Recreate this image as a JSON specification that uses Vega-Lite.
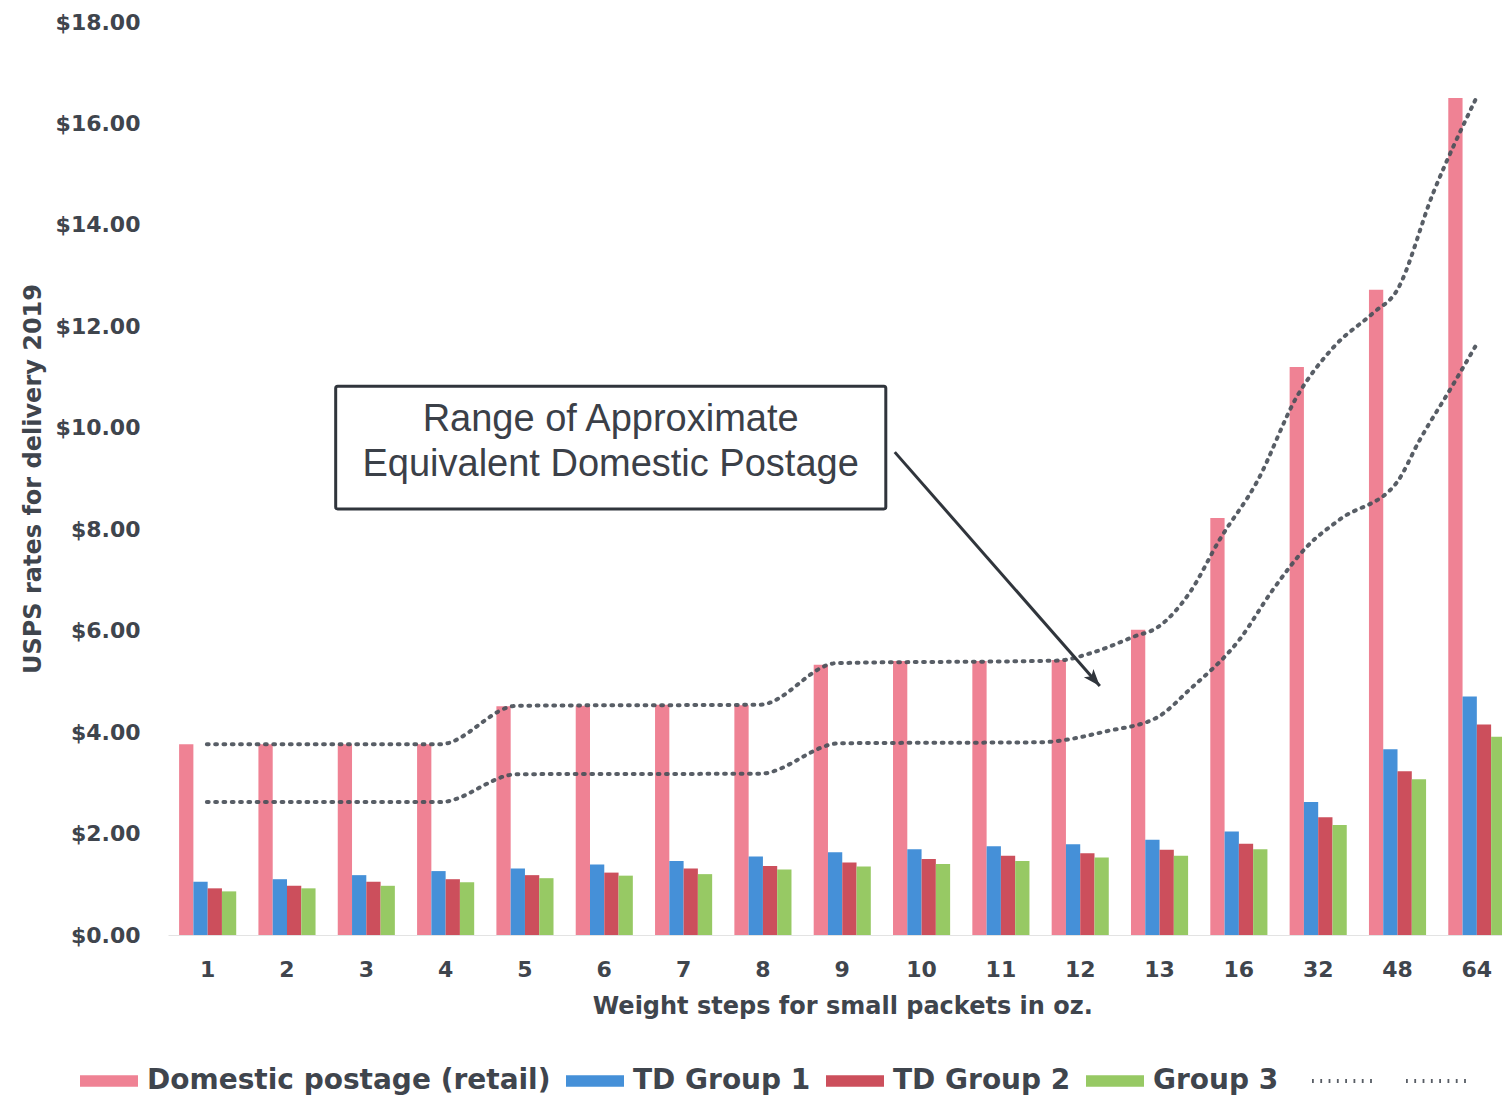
{
  "$schema": "https://vega.github.io/schema/vega-lite/v6.json",
  "width": 1334,
  "height": 913,
  "autosize": {"type": "none"},
  "padding": {"left": 168, "top": 22, "right": 0, "bottom": 163},
  "background": "#ffffff",
  "datasets": {
    "rates": [
      {"oz": "1", "Domestic postage (retail)": 3.76, "TD Group 1": 1.05, "TD Group 2": 0.92, "Group 3": 0.86},
      {"oz": "2", "Domestic postage (retail)": 3.76, "TD Group 1": 1.10, "TD Group 2": 0.97, "Group 3": 0.92},
      {"oz": "3", "Domestic postage (retail)": 3.76, "TD Group 1": 1.18, "TD Group 2": 1.05, "Group 3": 0.97},
      {"oz": "4", "Domestic postage (retail)": 3.76, "TD Group 1": 1.26, "TD Group 2": 1.10, "Group 3": 1.04},
      {"oz": "5", "Domestic postage (retail)": 4.51, "TD Group 1": 1.31, "TD Group 2": 1.18, "Group 3": 1.12},
      {"oz": "6", "Domestic postage (retail)": 4.52, "TD Group 1": 1.39, "TD Group 2": 1.23, "Group 3": 1.17},
      {"oz": "7", "Domestic postage (retail)": 4.54, "TD Group 1": 1.46, "TD Group 2": 1.31, "Group 3": 1.20},
      {"oz": "8", "Domestic postage (retail)": 4.53, "TD Group 1": 1.55, "TD Group 2": 1.36, "Group 3": 1.29},
      {"oz": "9", "Domestic postage (retail)": 5.33, "TD Group 1": 1.63, "TD Group 2": 1.43, "Group 3": 1.35},
      {"oz": "10", "Domestic postage (retail)": 5.40, "TD Group 1": 1.69, "TD Group 2": 1.50, "Group 3": 1.40},
      {"oz": "11", "Domestic postage (retail)": 5.40, "TD Group 1": 1.75, "TD Group 2": 1.56, "Group 3": 1.46},
      {"oz": "12", "Domestic postage (retail)": 5.42, "TD Group 1": 1.79, "TD Group 2": 1.61, "Group 3": 1.53},
      {"oz": "13", "Domestic postage (retail)": 6.02, "TD Group 1": 1.88, "TD Group 2": 1.68, "Group 3": 1.56},
      {"oz": "16", "Domestic postage (retail)": 8.22, "TD Group 1": 2.04, "TD Group 2": 1.80, "Group 3": 1.69},
      {"oz": "32", "Domestic postage (retail)": 11.20, "TD Group 1": 2.62, "TD Group 2": 2.32, "Group 3": 2.17},
      {"oz": "48", "Domestic postage (retail)": 12.72, "TD Group 1": 3.66, "TD Group 2": 3.23, "Group 3": 3.07},
      {"oz": "64", "Domestic postage (retail)": 16.50, "TD Group 1": 4.70, "TD Group 2": 4.15, "Group 3": 3.91}
    ],
    "range": [
      {"band": "upper", "pos": 0.99, "rate": 3.76},
      {"band": "upper", "pos": 3.93, "rate": 3.76},
      {"band": "upper", "pos": 4.90, "rate": 4.52},
      {"band": "upper", "pos": 7.96, "rate": 4.54},
      {"band": "upper", "pos": 8.93, "rate": 5.36},
      {"band": "upper", "pos": 11.72, "rate": 5.41},
      {"band": "upper", "pos": 12.12, "rate": 5.55},
      {"band": "upper", "pos": 12.69, "rate": 5.89},
      {"band": "upper", "pos": 12.97, "rate": 6.06},
      {"band": "upper", "pos": 13.38, "rate": 6.75},
      {"band": "upper", "pos": 13.76, "rate": 7.80},
      {"band": "upper", "pos": 14.23, "rate": 8.94},
      {"band": "upper", "pos": 14.73, "rate": 10.61},
      {"band": "upper", "pos": 15.20, "rate": 11.60},
      {"band": "upper", "pos": 15.69, "rate": 12.26},
      {"band": "upper", "pos": 15.99, "rate": 12.70},
      {"band": "upper", "pos": 16.45, "rate": 14.63},
      {"band": "upper", "pos": 16.98, "rate": 16.46},
      {"band": "lower", "pos": 0.99, "rate": 2.62},
      {"band": "lower", "pos": 3.93, "rate": 2.62},
      {"band": "lower", "pos": 4.90, "rate": 3.17},
      {"band": "lower", "pos": 7.96, "rate": 3.18},
      {"band": "lower", "pos": 8.97, "rate": 3.78},
      {"band": "lower", "pos": 11.49, "rate": 3.80},
      {"band": "lower", "pos": 12.34, "rate": 4.02},
      {"band": "lower", "pos": 12.97, "rate": 4.29},
      {"band": "lower", "pos": 13.38, "rate": 4.84},
      {"band": "lower", "pos": 14.01, "rate": 5.83},
      {"band": "lower", "pos": 14.43, "rate": 6.81},
      {"band": "lower", "pos": 14.86, "rate": 7.66},
      {"band": "lower", "pos": 15.27, "rate": 8.19},
      {"band": "lower", "pos": 15.99, "rate": 8.92},
      {"band": "lower", "pos": 16.28, "rate": 9.76},
      {"band": "lower", "pos": 16.70, "rate": 10.85},
      {"band": "lower", "pos": 16.98, "rate": 11.60}
    ],
    "note": [
      {"left": 2.614, "right": 9.549, "rate": 8.40, "rate2": 10.82, "mid": 6.08, "textRate": 10.15,
       "label": "Range of Approximate\nEquivalent Domestic Postage"}
    ],
    "arrow": [
      {"end": "tail", "pos": 9.662, "rate": 9.52},
      {"end": "head", "pos": 12.247, "rate": 4.91}
    ]
  },
  "layer": [
    {
      "data": {"name": "rates"},
      "transform": [
        {"fold": ["Domestic postage (retail)", "TD Group 1", "TD Group 2", "Group 3"], "as": ["series", "rate"]}
      ],
      "mark": {"type": "bar"},
      "encoding": {
        "x": {
          "field": "oz", "type": "ordinal", "sort": null,
          "scale": {"range": [0, 1348.5], "paddingInner": 0.28, "paddingOuter": 0.14},
          "axis": {"title": "Weight steps for small packets in oz.", "labelOverlap": false}
        },
        "xOffset": {
          "field": "series", "type": "nominal",
          "sort": ["Domestic postage (retail)", "TD Group 1", "TD Group 2", "Group 3"]
        },
        "y": {
          "field": "rate", "type": "quantitative",
          "title": "USPS rates for delivery 2019",
          "scale": {"domain": [0, 18], "nice": false},
          "axis": {"values": [0, 2, 4, 6, 8, 10, 12, 14, 16, 18], "format": "$.2f"}
        },
        "color": {
          "field": "series", "type": "nominal",
          "scale": {
            "domain": ["Domestic postage (retail)", "TD Group 1", "TD Group 2", "Group 3"],
            "range": ["#ef8294", "#4590d8", "#cc4f5c", "#97c964"]
          },
          "legend": {
            "title": null, "orient": "none", "direction": "horizontal",
            "legendX": -88, "legendY": 1030, "padding": 0,
            "symbolType": "M-1,-0.2H1V0.2H-1Z", "symbolSize": 3364, "symbolStrokeWidth": 0,
            "symbolOpacity": 1,
            "labelFont": "DejaVu Sans", "labelFontWeight": "bold", "labelFontSize": 28,
            "labelColor": "#3f454d", "labelOffset": 9, "columnPadding": 15, "labelLimit": 600
          }
        }
      }
    },
    {
      "data": {"name": "range"},
      "mark": {"type": "line", "interpolate": "monotone", "color": "#4a5059", "strokeWidth": 4,
               "strokeCap": "round", "opacity": 0.92},
      "encoding": {
        "x": {"field": "pos", "type": "quantitative", "scale": {"domain": [0.5, 17.5], "range": [0, 1348.5]}, "axis": null},
        "y": {"field": "rate", "type": "quantitative", "title": "USPS rates for delivery 2019", "scale": {"domain": [0, 18], "nice": false}},
        "strokeDash": {
          "field": "band", "type": "nominal",
          "scale": {"domain": ["upper", "lower"], "range": [[1.8, 6.5], [1.8, 6.5]]},
          "legend": {
            "title": null, "orient": "none", "direction": "horizontal",
            "legendX": 1142, "legendY": 1027, "padding": 0,
            "symbolType": "stroke", "symbolSize": 3600, "symbolStrokeWidth": 4,
            "symbolStrokeColor": "#4a5059", "labelExpr": "''", "labelOffset": 0, "columnPadding": 18,
            "encode": {
              "symbols": {
                "update": {
                  "strokeCap": {"value": "round"},
                  "strokeDash": {"value": [2.5, 9.5]}
                }
              }
            }
          }
        }
      }
    },
    {
      "data": {"name": "note"},
      "mark": {"type": "rect", "fill": "#ffffff", "stroke": "#30353c", "strokeWidth": 3, "cornerRadius": 2},
      "encoding": {
        "x": {"field": "left", "type": "quantitative", "scale": {"domain": [0.5, 17.5], "range": [0, 1348.5]}, "axis": null},
        "x2": {"field": "right"},
        "y": {"field": "rate", "type": "quantitative", "title": "USPS rates for delivery 2019", "scale": {"domain": [0, 18], "nice": false}},
        "y2": {"field": "rate2"}
      }
    },
    {
      "data": {"name": "note"},
      "mark": {"type": "text", "font": "Liberation Sans", "fontSize": 38, "color": "#3b4048",
               "lineBreak": "\n", "lineHeight": 45, "align": "center", "baseline": "middle"},
      "encoding": {
        "x": {"field": "mid", "type": "quantitative", "scale": {"domain": [0.5, 17.5], "range": [0, 1348.5]}, "axis": null},
        "y": {"field": "textRate", "type": "quantitative", "title": "USPS rates for delivery 2019", "scale": {"domain": [0, 18], "nice": false}},
        "text": {"field": "label"}
      }
    },
    {
      "data": {"name": "arrow"},
      "mark": {"type": "line", "color": "#30353c", "strokeWidth": 3},
      "encoding": {
        "x": {"field": "pos", "type": "quantitative", "scale": {"domain": [0.5, 17.5], "range": [0, 1348.5]}, "axis": null},
        "y": {"field": "rate", "type": "quantitative", "title": "USPS rates for delivery 2019", "scale": {"domain": [0, 18], "nice": false}}
      }
    },
    {
      "data": {"name": "arrow"},
      "transform": [{"filter": "datum.end === 'head'"}],
      "mark": {"type": "point", "shape": "M0,0L-0.75,2L0,1.5L0.75,2Z", "size": 289, "angle": 138.8,
               "filled": true, "color": "#30353c", "opacity": 1},
      "encoding": {
        "x": {"field": "pos", "type": "quantitative", "scale": {"domain": [0.5, 17.5], "range": [0, 1348.5]}, "axis": null},
        "y": {"field": "rate", "type": "quantitative", "title": "USPS rates for delivery 2019", "scale": {"domain": [0, 18], "nice": false}}
      }
    }
  ],
  "resolve": {"scale": {"x": "independent"}},
  "config": {
    "view": {"stroke": null},
    "font": "DejaVu Sans",
    "axis": {
      "labelFont": "DejaVu Sans", "labelFontWeight": "bold", "labelFontSize": 22, "labelColor": "#3f454d",
      "titleFont": "DejaVu Sans", "titleFontWeight": "bold", "titleFontSize": 24, "titleColor": "#3f454d",
      "ticks": false, "grid": false
    },
    "axisY": {"domain": false, "labelPadding": 28, "titlePadding": 10},
    "axisX": {"domainColor": "#e3e3e3", "labelPadding": 24, "titlePadding": 14, "labelAngle": 0}
  }
}
